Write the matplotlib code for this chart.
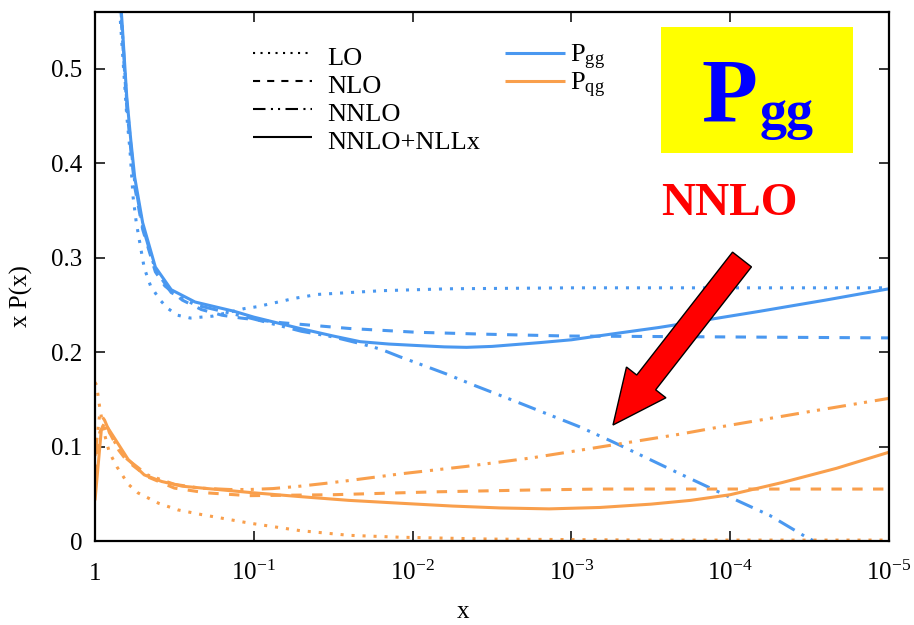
import numpy as np
import matplotlib
matplotlib.use("Agg")
import matplotlib.pyplot as plt
from matplotlib.patches import Rectangle, FancyArrow
from matplotlib.transforms import blended_transform_factory

plt.rcParams["font.family"] = ["Liberation Serif", "DejaVu Serif"]
plt.rcParams["mathtext.fontset"] = "custom"
plt.rcParams["mathtext.rm"] = "Liberation Serif"
plt.rcParams["mathtext.it"] = "Liberation Serif:italic"
plt.rcParams["mathtext.bf"] = "Liberation Serif:bold"

# ---- splitting functions x*P(x); abscissa given as -log10(x) ----
gg_lo_lg = [0.13, 0.16, 0.18, 0.20, 0.22, 0.24, 0.26, 0.31, 0.35, 0.41, 0.46, 0.52, 0.60,
            0.74, 0.94, 1.02, 1.26, 1.40, 1.60, 1.81, 2.23, 3.0, 4.0, 5.0]
gg_lo_y = [0.60, 0.55, 0.50, 0.45, 0.414, 0.364, 0.337, 0.289, 0.270, 0.255, 0.246, 0.239,
           0.236, 0.238, 0.246, 0.248, 0.257, 0.261, 0.263, 0.265, 0.267, 0.268, 0.268, 0.268]

gg_nlo_lg = [0.14, 0.17, 0.20, 0.225, 0.25, 0.30, 0.38, 0.44, 0.55, 0.67, 0.80, 0.92, 1.18,
             1.60, 2.02, 2.44, 2.97, 4.0, 5.0]
gg_nlo_y = [0.62, 0.54, 0.46, 0.415, 0.375, 0.33, 0.285, 0.270, 0.255, 0.245, 0.239, 0.236,
            0.231, 0.225, 0.221, 0.219, 0.217, 0.216, 0.215]

gg_nnlo_lg = [0.14, 0.17, 0.20, 0.225, 0.25, 0.30, 0.38, 0.48, 0.63, 0.88, 1.0, 1.3, 1.5,
              1.67, 1.80, 1.92, 2.05, 2.21, 2.40, 2.63, 3.05, 3.26, 3.66, 3.99, 4.25, 4.48, 4.6]
gg_nnlo_y = [0.62, 0.545, 0.465, 0.42, 0.38, 0.333, 0.287, 0.263, 0.250, 0.240, 0.235, 0.222,
             0.216, 0.209, 0.203, 0.195, 0.187, 0.177, 0.164, 0.149, 0.121, 0.105, 0.073,
             0.047, 0.027, 0.004, -0.006]

gg_nll_lg = [0.14, 0.17, 0.20, 0.225, 0.25, 0.30, 0.38, 0.48, 0.63, 0.88, 1.0, 1.29, 1.50,
             1.67, 1.85, 2.02, 2.20, 2.34, 2.50, 2.65, 2.80, 3.0, 3.25, 3.55, 3.85, 4.18,
             4.6, 5.0]
gg_nll_y = [0.62, 0.55, 0.47, 0.425, 0.385, 0.337, 0.290, 0.266, 0.253, 0.243, 0.237, 0.225,
            0.217, 0.211, 0.2085, 0.207, 0.2055, 0.205, 0.206, 0.208, 0.210, 0.213, 0.219,
            0.226, 0.234, 0.243, 0.255, 0.267]

qg_lo_lg = [0.0, 0.01, 0.03, 0.06, 0.09, 0.14, 0.21, 0.27, 0.40, 0.52, 0.67, 0.97, 1.29,
            1.60, 1.92, 2.5, 3.5, 5.0]
qg_lo_y = [0.168, 0.165, 0.141, 0.113, 0.094, 0.078, 0.060, 0.051, 0.040, 0.033, 0.028,
           0.019, 0.011, 0.006, 0.004, 0.002, 0.001, 0.001]

qg_nlo_lg = [0.0, 0.03, 0.06, 0.10, 0.15, 0.20, 0.33, 0.50, 0.70, 0.97, 1.5, 2.13, 2.75,
             3.18, 4.0, 5.0]
qg_nlo_y = [0.07, 0.115, 0.125, 0.112, 0.096, 0.085, 0.068, 0.056, 0.051, 0.048, 0.049,
            0.052, 0.054, 0.055, 0.055, 0.055]

qg_nnlo_lg = [0.0, 0.03, 0.06, 0.10, 0.15, 0.20, 0.33, 0.50, 0.66, 0.85, 0.97, 1.12, 1.29,
              1.45, 1.60, 1.92, 2.34, 2.75, 3.05, 3.68, 3.91, 4.5, 5.0]
qg_nnlo_y = [0.09, 0.135, 0.128, 0.112, 0.097, 0.087, 0.070, 0.060, 0.056, 0.0545, 0.0545,
             0.0555, 0.058, 0.061, 0.064, 0.071, 0.079, 0.088, 0.096, 0.113, 0.120, 0.137, 0.151]

qg_nll_lg = [0.0, 0.04, 0.08, 0.13, 0.21, 0.31, 0.42, 0.55, 0.74, 1.0, 1.29, 1.60, 1.92,
             2.25, 2.55, 2.86, 3.18, 3.50, 3.75, 4.0, 4.33, 4.67, 5.0]
qg_nll_y = [0.043, 0.118, 0.120, 0.107, 0.086, 0.070, 0.063, 0.058, 0.055, 0.051, 0.047,
            0.043, 0.040, 0.037, 0.035, 0.034, 0.0355, 0.039, 0.043, 0.049, 0.062, 0.077, 0.094]

x_tick_exp = [0, 1, 2, 3, 4, 5]
y_ticks = [0, 0.1, 0.2, 0.3, 0.4, 0.5]
y_tick_labels = ["0", "0.1", "0.2", "0.3", "0.4", "0.5"]
order_labels = ["LO", "NLO", "NNLO", "NNLO+NLLx"]
kernel_labels = [r"$\mathrm{P}_{\mathrm{gg}}$", r"$\mathrm{P}_{\mathrm{qg}}$"]

BLUE = "#4a98f0"
ORANGE = "#f99f4c"
LW = 2.2
styles = {
    "LO": (0, (1.0, 2.6)),
    "NLO": (0, (3.4, 3.4)),
    "NNLO": (0, (6.0, 2.6, 1.0, 2.4, 1.0, 2.6)),
    "NNLO+NLLx": "-",
}

fig = plt.figure(figsize=(9.14, 6.25), dpi=100)
ax = fig.add_axes([95 / 914, 84 / 625, 794 / 914, 529 / 625])

series = [
    (gg_lo_lg, gg_lo_y, BLUE, "LO"),
    (gg_nlo_lg, gg_nlo_y, BLUE, "NLO"),
    (gg_nnlo_lg, gg_nnlo_y, BLUE, "NNLO"),
    (gg_nll_lg, gg_nll_y, BLUE, "NNLO+NLLx"),
    (qg_lo_lg, qg_lo_y, ORANGE, "LO"),
    (qg_nlo_lg, qg_nlo_y, ORANGE, "NLO"),
    (qg_nnlo_lg, qg_nnlo_y, ORANGE, "NNLO"),
    (qg_nll_lg, qg_nll_y, ORANGE, "NNLO+NLLx"),
]
for lg, y, col, order in series:
    x = 10.0 ** (-np.asarray(lg))
    ax.plot(x, y, color=col, lw=LW, ls=styles[order], dash_capstyle="butt",
            solid_capstyle="butt", solid_joinstyle="round")

ax.set_xscale("log")
ax.set_xlim(1, 1e-5)
ax.set_ylim(0, 0.56)
ax.minorticks_off()
ax.set_xticks([10.0 ** (-e) for e in x_tick_exp])
ax.set_xticklabels([])
ax.set_yticks(y_ticks)
ax.set_yticklabels(y_tick_labels)
ax.tick_params(direction="in", length=7.5, width=1.1, top=True, right=True,
               labelsize=18, pad=9)
for s in ax.spines.values():
    s.set_linewidth(1.6)

# x tick labels on a common baseline
trans = blended_transform_factory(ax.transData, ax.transAxes)
for e in x_tick_exp:
    lab = "1" if e == 0 else r"$10^{-%d}$" % e
    ax.text(10.0 ** (-e), -0.0737, lab, transform=trans, ha="center",
            va="baseline", fontsize=18)

ax.text(0.4635, -0.134, "x", transform=ax.transAxes, ha="center", va="center",
        fontsize=18)
ax.text(-0.092, 0.463, "x P(x)", transform=ax.transAxes, ha="center",
        va="center", rotation=90, fontsize=18)

# overlay in pixel units for the legend and annotations
ov = fig.add_axes([0, 0, 1, 1], zorder=5)
ov.set_xlim(0, 914)
ov.set_ylim(625, 0)
ov.axis("off")
ov.patch.set_alpha(0)

row_y = [53, 81, 109, 137]
for yy, order in zip(row_y, order_labels):
    ov.plot([253, 312], [yy, yy], color="black", lw=1.5, ls=styles[order],
            dash_capstyle="butt", solid_capstyle="butt")
    ov.text(327, yy + 12, order, fontsize=19, va="baseline", ha="left")

for yy, col, lab in zip(row_y[:2], [BLUE, ORANGE], kernel_labels):
    ov.plot([505, 565], [yy, yy], color=col, lw=LW, solid_capstyle="butt")
    ov.text(570, yy + 9, lab, fontsize=19, va="baseline", ha="left")

ov.add_patch(Rectangle((661, 27), 192, 126, facecolor="#ffff00", edgecolor="none"))
ov.text(701, 122, "P", fontsize=66, fontweight="bold", color="#0000ff",
        va="baseline", ha="left")
ov.text(760, 128, "gg", fontsize=39, fontweight="bold", color="#0000ff",
        va="baseline", ha="left")
ov.text(661, 215, "NNLO", fontsize=34, fontweight="bold", color="#ff0000",
        va="baseline", ha="left")

ov.add_patch(FancyArrow(742, 259.5, -129, 165.5, width=24, head_width=50,
                        head_length=54, length_includes_head=True,
                        facecolor="#ff0000", edgecolor="black", lw=1.0))

fig.savefig("out.png", dpi=100)
